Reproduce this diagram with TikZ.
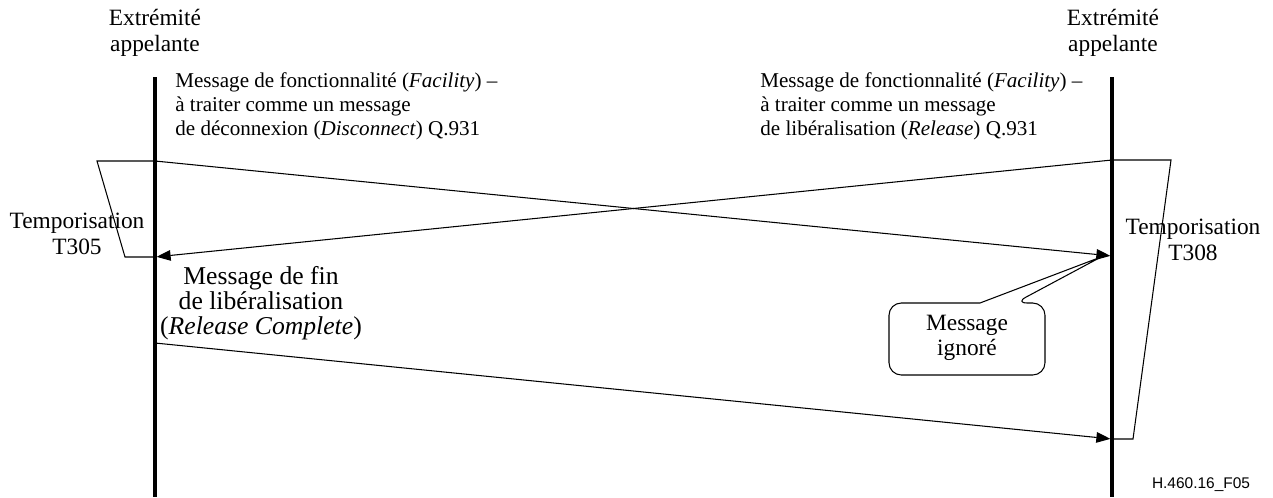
\documentclass[tikz,border=0pt]{standalone}
\usepackage{fontspec}
\setmainfont{Liberation Serif}
\newfontfamily\figidfont{Liberation Sans}
\usetikzlibrary{arrows.meta,positioning}
\tikzset{
    every picture/.style={line cap=butt,line join=miter},
    lifeline/.style={draw=black,line width=1.8pt},
    msgarrow/.style={-{Triangle[length=8pt,width=6pt]},draw=black,
      line width=0.6pt,shorten >=0.9pt},
    timerline/.style={draw=black,line width=0.6pt},
    biglabel/.style={font=\fontsize{13.3}{14.6}\selectfont,align=center,
      inner sep=0pt},
    msglabel/.style={font=\fontsize{12}{13.6}\selectfont,align=left,
      inner sep=0pt,anchor=west},
    calloutbox/.style={draw=black,fill=white,line width=0.6pt,line join=round}
}

\begin{document}
\begin{tikzpicture}[x=0.2mm,y=-0.2mm]
  \useasboundingbox (0,0) rectangle (1273,497);
  % the two ends
  \node[biglabel] (endA) at (155,33) {Extrémité\\appelante};
  \node[biglabel] (endB) at (1113,33) {Extrémité\\appelante};
  \coordinate (topA) at (155,77);
  \coordinate (botA) at (155,497);
  \coordinate (topB) at (1112,77);
  \coordinate (botB) at (1112,497);
  \draw[lifeline] (topA) -- (botA);
  \draw[lifeline] (topB) -- (botB);
  % message end points
  \coordinate (discA) at (155,161);
  \coordinate (discB) at (1112,256);
  \coordinate (relB) at (1112,160);
  \coordinate (relA) at (155,257);
  \coordinate (rlcA) at (155,343);
  \coordinate (rlcB) at (1112,439);
  \draw[msgarrow] (discA) -- (discB);
  \draw[msgarrow] (relB) -- (relA);
  \draw[msgarrow] (rlcA) -- (rlcB);
  \node[msglabel] (discTxt) at (175,106)
    {Message de fonctionnalité (\textit{Facility}) --\\
     à traiter comme un message\\
     de déconnexion (\textit{Disconnect}) Q.931};
  \node[msglabel] (relTxt) at (760,106)
    {Message de fonctionnalité (\textit{Facility}) --\\
     à traiter comme un message\\
     de libéralisation (\textit{Release}) Q.931};
  \node[biglabel,font=\fontsize{14.6}{14.4}\selectfont] (rlcTxt) at (261,303)
    {Message de fin\\de libéralisation\\(\textit{Release Complete})};
  % timers
  \coordinate (t305a) at (97,161);
  \coordinate (t305b) at (125,257);
  \draw[timerline] (discA) -- (t305a) -- (t305b) -- (relA);
  \node[biglabel,fill=none] (t305) at (77,234) {Temporisation\\T305};
  \coordinate (t308a) at (1171,160);
  \coordinate (t308b) at (1133,439);
  \draw[timerline] (relB) -- (t308a) -- (t308b) -- (rlcB);
  \node[biglabel] (t308) at (1193,240) {Temporisation\\T308};
  % ignored message
  \coordinate (tip) at (1101,257);
  \draw[calloutbox,rounded corners=7pt] (980,303) -- (889,303) -- (889,375)
    -- (1045,375) -- (1045,303) -- (1015,303) [sharp corners] -- (tip) -- cycle;
  \node[biglabel] (ignTxt) at (967,338) {Message\\ignoré};
  \node[font=\figidfont\fontsize{8.8}{10}\selectfont,inner sep=0pt]
    (figid) at (1201,485) {H.460.16\_F05};
\end{tikzpicture}
\end{document}
